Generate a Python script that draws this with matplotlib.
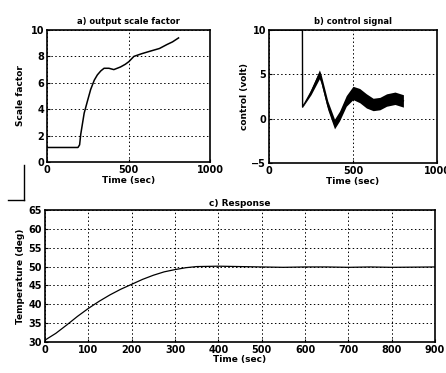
"""Scale factor, control signal and temperature response of the fuzzy controller."""

import matplotlib
matplotlib.use("Agg")
import matplotlib.pyplot as plt
import numpy as np
from matplotlib.lines import Line2D

# a) output scale factor
scale_time = [0, 190, 200, 207, 228, 250, 268, 290, 309, 330, 350, 380, 410, 451, 480, 502,
              533, 580, 634, 690, 736, 770, 807]
scale_value = [1.1, 1.1, 1.3, 2.1, 3.7, 4.7, 5.5, 6.2, 6.6, 6.9, 7.1, 7.1, 7.0, 7.2, 7.4, 7.6,
               8.0, 8.2, 8.4, 8.6, 8.9, 9.1, 9.4]

# b) control signal (centre line and half width of the noisy band)
control_time = [0, 199, 200, 250, 300, 310, 350, 390, 420, 460, 500, 540, 580, 620, 660, 700,
                750, 800]
control_value = [10, 10, 1.3, 3.0, 5.0, 4.5, 1.5, -0.6, 0.3, 2.0, 2.9, 2.6, 2.0, 1.6, 1.7, 2.1,
                 2.3, 2.0]
control_band = [0, 0, 0, 0.3, 0.5, 0.5, 0.5, 0.55, 0.55, 0.6, 0.75, 0.8, 0.8, 0.7, 0.7, 0.7,
                0.7, 0.7]

# c) response
resp_time = [0, 25, 50, 75, 100, 125, 150, 175, 200, 225, 250, 275, 300, 325, 350, 400, 450,
             500, 550, 600, 650, 700, 750, 800, 900]
resp_temp = [30.5, 32.3, 34.5, 36.8, 38.9, 40.8, 42.5, 44.0, 45.3, 46.6, 47.7, 48.6, 49.2,
             49.7, 50.0, 50.1, 50.0, 49.9, 49.8, 49.9, 49.9, 49.8, 49.9, 49.8, 49.9]

W, H = 446, 373
plt.rcParams["font.family"] = "DejaVu Sans"
plt.rcParams["font.weight"] = "bold"
plt.rcParams["font.size"] = 6.5
fig = plt.figure(figsize=(W / 100, H / 100), dpi=100)


def px_axes(left, top, right, bottom):
    """Add axes from pixel edges."""
    return fig.add_axes([left / W, 1 - bottom / H, (right - left) / W, (bottom - top) / H])


def style(ax):
    ax.grid(True, color="black", linestyle=(0, (1.5, 2.5)), linewidth=0.7)
    ax.tick_params(direction="in", length=2.5, width=0.8, pad=2, labelsize=7)
    for lab in ax.get_xticklabels() + ax.get_yticklabels():
        lab.set_fontweight("bold")
    for sp in ax.spines.values():
        sp.set_linewidth(1.2)


ax1 = px_axes(47, 30, 210, 162)
ax1.plot(scale_time, scale_value, color="black", lw=1.1)
ax1.set_xlim(0, 1000)
ax1.set_ylim(0, 10)
ax1.set_xticks([0, 500, 1000])
ax1.set_yticks([0, 2, 4, 6, 8, 10])
ax1.set_title("a) output scale factor", fontsize=6, pad=4, fontweight="bold")
ax1.set_xlabel("Time (sec)", fontsize=6.5, labelpad=1, fontweight="bold")
ax1.set_ylabel("Scale factor", fontsize=6.5, labelpad=4, fontweight="bold")
style(ax1)

ax2 = px_axes(269, 30, 437, 163)
cv = np.array(control_value)
cb = np.array(control_band)
ax2.fill_between(control_time, cv - cb, cv + cb, color="black", lw=0)
ax2.plot(control_time, control_value, color="black", lw=1.0)
ax2.set_xlim(0, 1000)
ax2.set_ylim(-5, 10)
ax2.set_xticks([0, 500, 1000])
ax2.set_yticks([-5, 0, 5, 10])
ax2.set_title("b) control signal", fontsize=6, pad=4, fontweight="bold")
ax2.set_xlabel("Time (sec)", fontsize=6.5, labelpad=1, fontweight="bold")
ax2.set_ylabel("control (volt)", fontsize=6.5, labelpad=2, fontweight="bold")
style(ax2)

ax3 = px_axes(45, 210, 435, 342)
ax3.plot(resp_time, resp_temp, color="black", lw=0.9)
ax3.set_xlim(0, 900)
ax3.set_ylim(30, 65)
ax3.set_xticks(np.arange(0, 901, 100))
ax3.set_yticks(np.arange(30, 66, 5))
ax3.set_title("c) Response", fontsize=6.5, pad=3, fontweight="bold")
ax3.set_xlabel("Time (sec)", fontsize=6.5, labelpad=0, fontweight="bold")
ax3.set_ylabel("Temperature (deg)", fontsize=6.5, labelpad=3, fontweight="bold")
style(ax3)

# bracket line from the scanned page
fig.add_artist(Line2D([24 / W, 24 / W], [1 - 165 / H, 1 - 200 / H], color="black", lw=1.0))
fig.add_artist(Line2D([8 / W, 24 / W], [1 - 200 / H, 1 - 200 / H], color="black", lw=1.0))

fig.savefig("out.png", dpi=100)
